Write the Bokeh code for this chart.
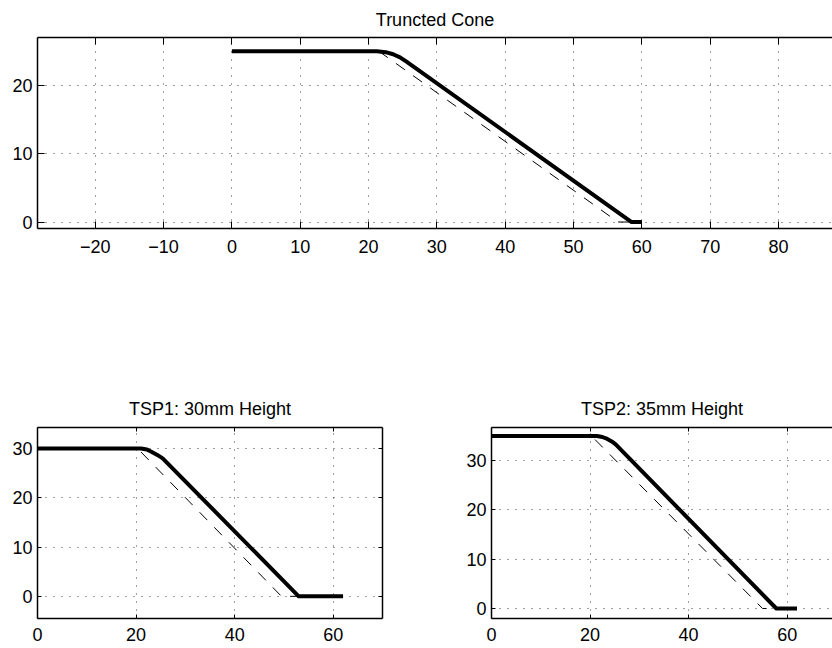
from bokeh.plotting import figure
from bokeh.layouts import column, row
from bokeh.models import Range1d, FixedTicker, LinearAxis
from bokeh.embed import file_html
from bokeh.resources import INLINE

FONT = "Liberation Sans"

# ---------------- data ----------------
# Truncted Cone
cone_thick_x = [0, 21.2, 22.5, 23.6, 24.6, 25.5, 58.5, 60]
cone_thick_y = [25, 25, 24.85, 24.55, 24.1, 23.5, 0, 0]
cone_dash_x = [0, 21.5, 56.5, 60]
cone_dash_y = [25, 25, 0, 0]
cone_xticks = [-20, -10, 0, 10, 20, 30, 40, 50, 60, 70, 80]
cone_xlabels = ["\u221220", "\u221210", "0", "10", "20", "30", "40", "50", "60", "70", "80"]
cone_yticks = [0, 10, 20]
cone_ylabels = ["0", "10", "20"]

# TSP1: 30mm Height
tsp1_thick_x = [0, 21.0, 22.2, 23.2, 24.3, 25.4, 53.0, 62.0]
tsp1_thick_y = [30, 30, 29.8, 29.3, 28.7, 28.0, 0, 0]
tsp1_dash_x = [0, 20.3, 49.5, 62.0]
tsp1_dash_y = [30, 30, 0, 0]

# TSP2: 35mm Height
tsp2_thick_x = [0, 21.4, 22.5, 23.5, 24.4, 25.2, 57.8, 62.0]
tsp2_thick_y = [35, 35, 34.8, 34.4, 33.9, 33.3, 0, 0]
tsp2_dash_x = [0, 20.3, 55.0, 62.0]
tsp2_dash_y = [35, 35, 0, 0]

tsp_xticks = [0, 20, 40, 60]
tsp_xlabels = ["0", "20", "40", "60"]
tsp_yticks = [0, 10, 20, 30]
tsp_ylabels = ["0", "10", "20", "30"]


def style_axis(ax, ticks, labels, tick_len, standoff, show_labels=True):
    ax.ticker = FixedTicker(ticks=ticks)
    ax.major_label_overrides = {t: l for t, l in zip(ticks, labels)}
    ax.major_tick_in = tick_len
    ax.major_tick_out = 0
    ax.major_tick_line_color = "black"
    ax.major_tick_line_width = 1
    ax.minor_tick_line_color = None
    ax.axis_line_color = "black"
    ax.axis_line_width = 1.5
    ax.major_label_standoff = standoff
    ax.major_label_text_font = FONT
    ax.major_label_text_color = "black"
    if show_labels:
        ax.major_label_text_font_size = "18px"
    else:
        ax.major_label_text_font_size = "0px"


def make_fig(width, height, xr, yr, xticks, xlabels, yticks, ylabels, title,
             mbl, mbr, mbt, mbb, tick_len, right_axis, x_standoff, title_offset,
             title_standoff):
    p = figure(width=width, height=height, x_range=Range1d(*xr), y_range=Range1d(*yr),
               output_backend="svg", toolbar_location=None,
               min_border_left=mbl, min_border_right=mbr,
               min_border_top=mbt, min_border_bottom=mbb)
    p.outline_line_color = None
    p.background_fill_color = "white"
    p.border_fill_color = "white"
    p.title.text = title
    p.title.text_font = FONT
    p.title.text_font_size = "18px"
    p.title.text_font_style = "normal"
    p.title.text_color = "black"
    p.title.align = "center"
    p.title.offset = title_offset
    p.title.standoff = title_standoff

    style_axis(p.xaxis[0], xticks, xlabels, tick_len, x_standoff)
    style_axis(p.yaxis[0], yticks, ylabels, tick_len, 5)

    top = LinearAxis()
    style_axis(top, xticks, ["" for _ in xticks], tick_len, 0, show_labels=False)
    p.add_layout(top, "above")
    if right_axis:
        rt = LinearAxis()
        style_axis(rt, yticks, ["" for _ in yticks], tick_len, 0, show_labels=False)
        p.add_layout(rt, "right")

    for g in (p.xgrid[0], p.ygrid[0]):
        g.grid_line_color = "black"
        g.grid_line_alpha = 0.75
        g.grid_line_width = 1
        g.grid_line_dash = "1 7"
    p.xgrid[0].ticker = FixedTicker(ticks=xticks)
    p.ygrid[0].ticker = FixedTicker(ticks=yticks)
    return p


p_top = make_fig(832, 260, (-28.45, 87.9), (-0.95, 27.0), cone_xticks, cone_xlabels,
                 cone_yticks, cone_ylabels, "Truncted Cone",
                 37, 0, 37, 32, 7, False, 11, 3, 15)
p_top.line(cone_dash_x, cone_dash_y, line_color="black", line_width=1, line_dash="11 10")
p_top.line(cone_thick_x, cone_thick_y, line_color="black", line_width=4, line_join="round")

p_bl = make_fig(420, 388, (0, 70), (-4.5, 34.26), tsp_xticks, tsp_xlabels,
                tsp_yticks, tsp_ylabels, "TSP1: 30mm Height",
                37, 38, 167, 30, 4, True, 9, 0, 18)
p_bl.line(tsp1_dash_x, tsp1_dash_y, line_color="black", line_width=1, line_dash="11 10")
p_bl.line(tsp1_thick_x, tsp1_thick_y, line_color="black", line_width=4, line_join="round")

p_br = make_fig(412, 388, (0, 69.2), (-2.03, 36.73), tsp_xticks, tsp_xlabels,
                tsp_yticks, tsp_ylabels, "TSP2: 35mm Height",
                71, 0, 167, 30, 4, False, 9, 2, 18)
p_br.line(tsp2_dash_x, tsp2_dash_y, line_color="black", line_width=1, line_dash="11 10")
p_br.line(tsp2_thick_x, tsp2_thick_y, line_color="black", line_width=4, line_join="round")

layout = column(p_top, row(p_bl, p_br, spacing=0), spacing=0)

open("out.html", "w").write(file_html(layout, INLINE))
